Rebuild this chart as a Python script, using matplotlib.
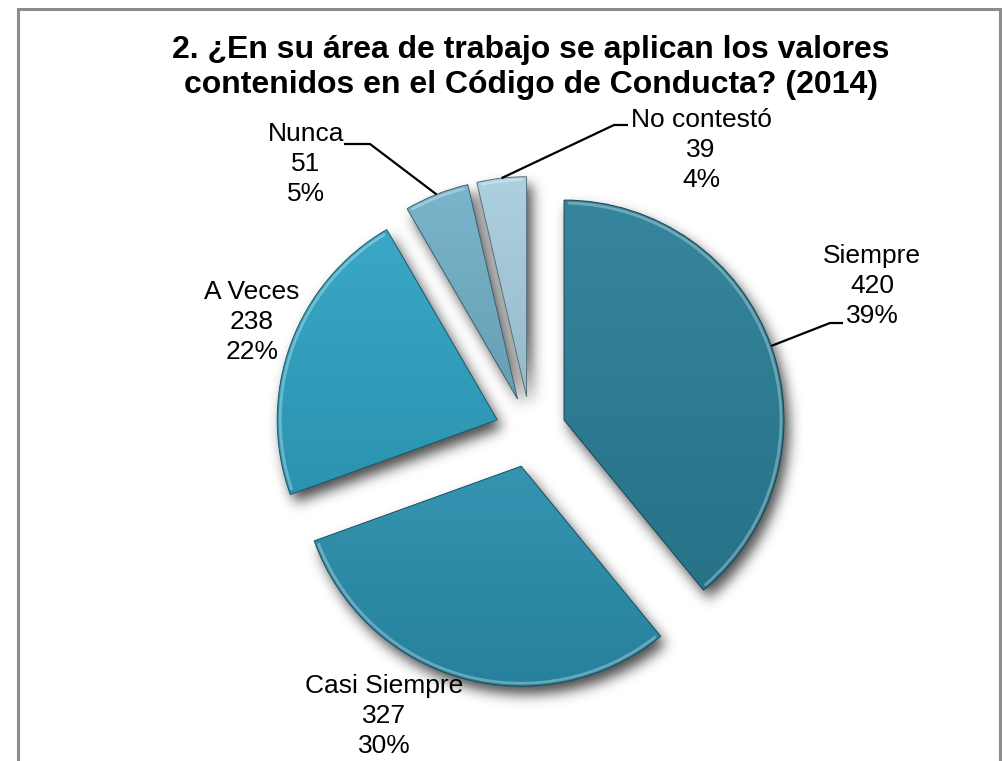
import numpy as np
import matplotlib
matplotlib.use("Agg")
import matplotlib.pyplot as plt
from matplotlib.patches import Rectangle, Arc
from matplotlib.path import Path
import matplotlib.colors as mcolors

plt.rcParams['font.family'] = ['Liberation Sans', 'DejaVu Sans']

# ---- data ----
categories = ["Siempre", "Casi Siempre", "A Veces", "Nunca", "No contestó"]
counts = [420, 327, 238, 51, 39]
colors = ["#2B7F97", "#2A8FAD", "#2FA3C3", "#72B1C8", "#A8CEDF"]
title_lines = ["2. ¿En su área de trabajo se aplican los valores",
               "contenidos en el Código de Conducta? (2014)"]

W, H = 1002, 761
fig = plt.figure(figsize=(W / 100, H / 100), dpi=100)
ax = fig.add_axes([0, 0, 1, 1])

def Y(y):  # pixel row -> data y
    return H - y

total = sum(counts)
pcts = [round(100 * c / total) for c in counts]

R = 220
CX, CY = 530.6, Y(432)
EXPL = 35.5

wedges, _ = ax.pie(counts, explode=[EXPL] * len(counts), radius=R, center=(CX, CY),
                   startangle=90, counterclock=False, colors=colors,
                   wedgeprops=dict(linewidth=0), frame=True)
ax.set_autoscale_on(False)

# ---- soft shadow ----
xs = np.arange(W) + 0.5
ys = H - (np.arange(H) + 0.5)
gx, gy = np.meshgrid(xs, ys)
pts = np.column_stack([gx.ravel(), gy.ravel()])
mask = np.zeros(W * H)
for w in wedges:
    p = w.get_path()
    verts = p.vertices + np.array([5.0, -8.0])
    mask = np.maximum(mask, Path(verts, p.codes).contains_points(pts).astype(float))
mask = mask.reshape(H, W)
sigma = 6.5
kx = np.arange(-int(3 * sigma), int(3 * sigma) + 1)
kern = np.exp(-kx ** 2 / (2 * sigma ** 2))
kern /= kern.sum()
blur = np.array([np.convolve(row, kern, mode='same') for row in mask])
blur = np.array([np.convolve(col, kern, mode='same') for col in blur.T]).T
shadow = np.zeros((H, W, 4))
shadow[..., :3] = 0.12
shadow[..., 3] = 0.8 * blur
ax.imshow(shadow, extent=(0, W, 0, H), origin='upper', zorder=0.5, interpolation='bilinear')

# ---- gradient fill + bevel ----
for w, c in zip(wedges, colors):
    base = np.array(mcolors.to_rgb(c))
    top = np.clip(base + (1 - base) * 0.05, 0, 1)
    bot = base * 0.90
    bb = w.get_path().get_extents()
    g = np.linspace(0, 1, 64)[:, None, None]
    img = top[None, None, :] * (1 - g) + bot[None, None, :] * g
    img = np.repeat(img, 4, axis=1)
    w.set_facecolor('none')
    w.set_zorder(2)
    im = ax.imshow(img, extent=(bb.x0, bb.x1, bb.y0, bb.y1), origin='upper',
                   zorder=1.5, interpolation='bilinear', aspect='auto')
    im.set_clip_path(w)
    w.set_edgecolor(tuple(base * 0.55))
    w.set_linewidth(0.7)
    arc = Arc(w.center, 2 * (w.r - 3), 2 * (w.r - 3), theta1=w.theta1 + 1, theta2=w.theta2 - 1,
              color='white', alpha=0.3, lw=2, zorder=2.5)
    ax.add_patch(arc)

# ---- labels ----
label_pos = [(872, 286), (384, 716), (252, 322), (306, 164), (701, 150)]
for cat, cnt, pct, (lx, ly) in zip(categories, counts, pcts, label_pos):
    ax.text(lx, Y(ly), f"{cat}\n{cnt}\n{pct}%", ha='center', va='center',
            fontsize=19, linespacing=1.3, zorder=5)

# leader lines: from arc midpoint of slice to elbow, then short horizontal
elbows = {0: [(830, 323), (843, 323)], 3: [(370, 144), (344, 144)], 4: [(614, 125), (628, 125)]}
for i, pts_ in elbows.items():
    w = wedges[i]
    tm = np.deg2rad(0.5 * (w.theta1 + w.theta2))
    sx = w.center[0] + w.r * np.cos(tm)
    sy = w.center[1] + w.r * np.sin(tm)
    ax.plot([sx] + [p[0] for p in pts_], [sy] + [Y(p[1]) for p in pts_],
            color='black', lw=1.6, zorder=4, solid_capstyle='butt')

# ---- title ----
for line, base_y in zip(title_lines, [58, 93]):
    ax.text(531, Y(base_y), line, ha='center', va='baseline', fontsize=23,
            fontweight='bold', zorder=5)

# ---- frame ----
ax.add_patch(Rectangle((18.5, Y(800)), 1000.5 - 18.5, 800 - 8.5, fill=False,
                       edgecolor='#8c8c8c', lw=2.2, zorder=6, clip_on=False))

ax.set_xlim(0, W)
ax.set_ylim(0, H)
ax.set_aspect('equal')
ax.axis('off')
fig.savefig("out.png", dpi=100)
